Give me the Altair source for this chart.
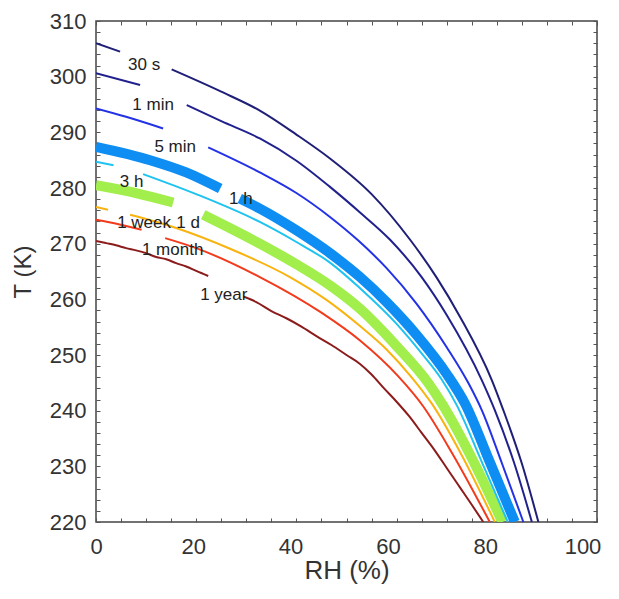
import altair as alt
import pandas as pd

# ---------------- data ----------------
curve_names = ["30 s", "1 min", "5 min", "1 h", "3 h", "1 d", "1 week", "1 month", "1 year"]
curve_colors = ["#1f1f78", "#21218e", "#2432e6", "#0e8ef2", "#1ec3f0",
                "#a2ee4c", "#f9b30f", "#f23a1c", "#8c1c1c"]
thick_curves = ["1 h", "1 d"]

# each curve: left segment (before its label) and right segment (after its label)
rh_30s_a = [0, 4.8]
t_30s_a = [306.0, 304.5]
rh_30s_b = [15.1, 25, 32.7, 40, 46.7, 55, 62.7, 68, 72.7, 79, 81.3, 85, 88.3]
t_30s_b = [301.3, 297.3, 293.9, 289.6, 285.3, 278.9, 270.7, 263.9, 256.8, 245.5, 240.1, 230.5, 220.0]

rh_1min_a = [0, 8.8]
t_1min_a = [300.6, 298.5]
rh_1min_b = [18.1, 25, 32.7, 40, 46.7, 52.7, 58.7, 65, 70, 77, 79.6, 83.5, 87.0]
t_1min_b = [294.9, 292.0, 288.9, 284.9, 280.2, 275.6, 270.7, 264.0, 257.2, 245.5, 240.1, 230.5, 220.0]

rh_5min_a = [0, 6, 13.4]
t_5min_a = [294.3, 292.8, 290.7]
rh_5min_b = [22.4, 32.7, 40, 46.7, 52.3, 58, 64, 70, 74.3, 77, 81, 85.3]
t_5min_b = [287.3, 282.8, 279.1, 274.8, 270.6, 265.6, 259.2, 251.4, 245.0, 240.1, 230.6, 220.0]

rh_1h_a = [0, 10.8, 18, 24.8]
t_1h_a = [287.4, 285.0, 282.8, 279.9]
rh_1h_b = [28.7, 32.7, 40, 46.7, 52.7, 58, 64, 70, 73.7, 78.5, 83.6]
t_1h_b = [278.1, 276.3, 272.4, 268.3, 264.0, 259.5, 253.6, 246.6, 241.2, 231.0, 220.0]

rh_3h_a = [0, 3.5]
t_3h_a = [284.7, 284.1]
rh_3h_b = [9.4, 20, 32.7, 40, 46.7, 52.7, 60, 65, 69, 72, 77, 82.2]
t_3h_b = [282.5, 278.9, 273.9, 270.3, 266.6, 262.0, 255.6, 250.3, 245.6, 241.0, 230.8, 220.0]

rh_1d_a = [0, 8, 15.4]
t_1d_a = [280.5, 279.1, 277.4]
rh_1d_b = [21.4, 32.7, 40, 46.7, 52.7, 60, 66.3, 69.3, 75, 81.1]
t_1d_b = [275.2, 270.0, 266.3, 262.5, 258.3, 251.6, 245.0, 240.9, 231.5, 220.0]

rh_1w_a = [0, 2.4]
t_1w_a = [276.6, 276.1]
rh_1w_b = [6.8, 15.4, 27, 38.7, 46, 52.7, 58, 63, 67, 73, 79.6]
t_1w_b = [275.2, 273.0, 269.0, 264.0, 259.9, 255.2, 251.0, 246.0, 241.3, 232.0, 220.0]

rh_1mo_a = [0, 4.5, 9.1]
t_1mo_a = [274.3, 273.5, 272.5]
rh_1mo_b = [13.8, 20, 32.7, 45, 52.7, 60.3, 65.3, 71, 78.6]
t_1mo_b = [271.0, 269.2, 264.0, 257.6, 252.6, 246.2, 240.8, 232.5, 220.0]

rh_1y_a = [0, 2, 4, 6, 8, 10, 12, 14, 16, 18, 20, 22.4]
t_1y_a = [270.5, 270.1, 269.7, 269.2, 268.8, 268.3, 267.6, 267.2, 266.5, 265.9, 265.1, 264.2]
rh_1y_b = [29.4, 32, 35, 38, 41, 44, 47, 50, 52.7, 55, 57.5, 60, 62.5, 65, 67.5, 70, 72.5, 75, 77.3]
t_1y_b = [260.5, 259.5, 257.9, 256.6, 255.1, 253.4, 251.8, 250.0, 248.4, 246.5, 244.0, 241.6,
          239.0, 236.0, 233.0, 229.7, 226.4, 223.1, 220.0]

segments = {
    "30 s": [(rh_30s_a, t_30s_a), (rh_30s_b, t_30s_b)],
    "1 min": [(rh_1min_a, t_1min_a), (rh_1min_b, t_1min_b)],
    "5 min": [(rh_5min_a, t_5min_a), (rh_5min_b, t_5min_b)],
    "1 h": [(rh_1h_a, t_1h_a), (rh_1h_b, t_1h_b)],
    "3 h": [(rh_3h_a, t_3h_a), (rh_3h_b, t_3h_b)],
    "1 d": [(rh_1d_a, t_1d_a), (rh_1d_b, t_1d_b)],
    "1 week": [(rh_1w_a, t_1w_a), (rh_1w_b, t_1w_b)],
    "1 month": [(rh_1mo_a, t_1mo_a), (rh_1mo_b, t_1mo_b)],
    "1 year": [(rh_1y_a, t_1y_a), (rh_1y_b, t_1y_b)],
}

# curve labels (centre of text, in data units)
label_text = ["30 s", "1 min", "5 min", "1 h", "3 h", "1 d", "1 week", "1 month", "1 year"]
label_rh = [9.6, 11.4, 15.8, 28.9, 7.1, 18.4, 9.6, 15.3, 25.5]
label_t = [302.1, 294.9, 287.4, 278.0, 281.1, 273.7, 273.7, 268.9, 260.8]

x_labels = [0, 20, 40, 60, 80, 100]
y_labels = [220, 230, 240, 250, 260, 270, 280, 290, 300, 310]
x_ticks = list(range(0, 101, 5))
y_ticks = list(range(220, 311, 2))

# ---------------- tables ----------------
rows = []
for name in curve_names:
    for si, (rhs, ts) in enumerate(segments[name]):
        for i, (r, t) in enumerate(zip(rhs, ts)):
            rows.append({"curve": name, "key": f"{name}-{si}", "RH": r, "T": t,
                         "i": i, "thick": name in thick_curves})
df = pd.DataFrame(rows)
labels_df = pd.DataFrame({"label": label_text, "RH": label_rh, "T": label_t})

FONT = "Liberation Sans"
xscale = alt.Scale(domain=[0, 100], nice=False, zero=False)
yscale = alt.Scale(domain=[220, 310], nice=False, zero=False)
color = alt.Color("curve:N", scale=alt.Scale(domain=curve_names, range=curve_colors), legend=None)

main_x = alt.Axis(values=x_labels, ticks=False, domain=False, grid=False, orient="bottom",
                  labelFlush=False, labelOverlap=False,
                  labelOffset={"expr": "-0.145 * datum.value"},
                  labelFont=FONT, labelFontSize=22, labelColor="#333", labelPadding=14,
                  title="RH (%)", titleFont=FONT, titleFontSize=26, titleFontWeight="normal",
                  titleColor="#333", titlePadding=0)
main_y = alt.Axis(values=y_labels, ticks=False, domain=False, grid=False, orient="left",
                  labelFlush=False, labelOverlap=False,
                  labelFont=FONT, labelFontSize=22, labelColor="#333", labelPadding=10,
                  title="T (K)", titleFont=FONT, titleFontSize=24, titleFontWeight="normal",
                  titleColor="#333", titlePadding=14)


def tick_axis(values, orient):
    return alt.Axis(values=values, orient=orient, offset=-4, tickSize=4, tickColor="#555",
                    tickWidth=1, labels=False, domain=False, grid=False, title="")


thin = alt.Chart(df).transform_filter("!datum.thick").mark_line(
    interpolate="monotone", strokeWidth=2, clip=True
).encode(
    x=alt.X("RH:Q", scale=xscale, axis=main_x),
    y=alt.Y("T:Q", scale=yscale, axis=main_y),
    color=color,
    detail="key:N",
    order="i:Q",
)

thick = alt.Chart(df).transform_filter("datum.thick").mark_line(
    interpolate="monotone", strokeWidth=10, clip=True, strokeCap="butt"
).encode(
    x=alt.X("RH:Q", scale=xscale, axis=tick_axis(x_ticks, "bottom")),
    y=alt.Y("T:Q", scale=yscale, axis=tick_axis(y_ticks, "left")),
    color=color,
    detail="key:N",
    order="i:Q",
)

texts = alt.Chart(labels_df).mark_text(
    font=FONT, fontSize=17, color="#222", align="center", baseline="middle"
).encode(
    x=alt.X("RH:Q", scale=xscale, axis=tick_axis(x_ticks, "top")),
    y=alt.Y("T:Q", scale=yscale, axis=tick_axis(y_ticks, "right")),
    text="label:N",
)

chart = alt.layer(thick, thin, texts).resolve_scale(
    x="shared", y="shared"
).resolve_axis(
    x="independent", y="independent"
).properties(
    width=501, height=501,
    autosize=alt.AutoSizeParams(type="none"),
    padding={"left": 88, "top": 13, "right": 12, "bottom": 62},
).configure_view(stroke="#444", strokeWidth=1.5)

chart.save("out.html", embed_options={"renderer": "svg", "actions": False})
